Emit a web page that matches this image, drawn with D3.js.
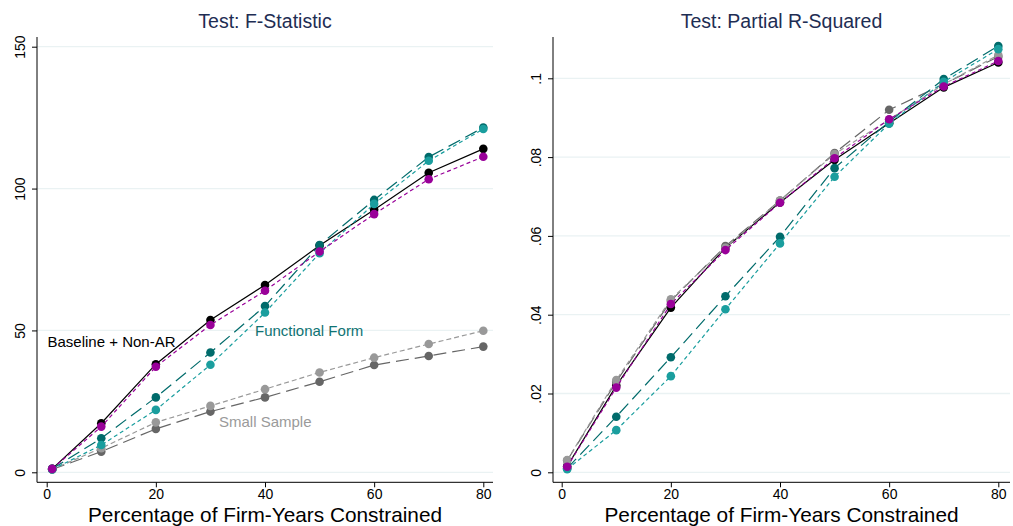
<!DOCTYPE html>
<html><head><meta charset="utf-8">
<script src="https://cdn.jsdelivr.net/npm/d3@7"></script>
<style>body{margin:0;background:#fff}svg{display:block;font-family:"Liberation Sans",Arial,sans-serif}</style>
</head><body><svg id="c" width="1013" height="526"></svg>
<script>
const xVals = [1,10,20,30,40,50,60,70,80];
const xTicks = [0,20,40,60,80];
const fTicks = [0,50,100,150];
const rTicks = [0,0.02,0.04,0.06,0.08,0.1];

// Left panel: F-Statistic
const fBaseline   = [1.2,17.3,38.1,53.7,66.0,79.9,92.5,105.6,114.0];
const fNonAR      = [1.2,16.1,37.2,51.9,64.0,77.8,91.0,103.3,111.2];
const fFuncForm1  = [1.2,12.0,26.4,42.2,58.6,80.1,96.0,111.1,121.5];
const fFuncForm2  = [1.0,9.6,22.0,37.9,56.3,77.2,94.6,109.8,121.0];
const fSmall1     = [1.0,7.3,15.3,21.4,26.4,31.9,37.8,41.0,44.3];
const fSmall2     = [1.0,8.5,17.6,23.4,29.3,35.2,40.4,45.2,49.9];

// Right panel: Partial R-Squared
const rBaseline   = [0.0015,0.0220,0.0418,0.0570,0.0685,0.0793,0.0886,0.0977,0.1040];
const rNonAR      = [0.0014,0.0215,0.0427,0.0564,0.0684,0.0797,0.0896,0.0979,0.1044];
const rFuncForm1  = [0.0010,0.0141,0.0292,0.0447,0.0598,0.0772,0.0890,0.0998,0.1082];
const rFuncForm2  = [0.0008,0.0107,0.0244,0.0414,0.0581,0.0750,0.0885,0.0991,0.1074];
const rSmall1     = [0.0030,0.0230,0.0435,0.0574,0.0690,0.0810,0.0920,0.0985,0.1055];
const rSmall2     = [0.0031,0.0234,0.0439,0.0570,0.0690,0.0808,0.0895,0.0985,0.1059];

const styles = {
  baseline: {color:"#000000", dash:null},
  smallA:   {color:"#666666", dash:"13,6"},
  smallB:   {color:"#999999", dash:"5,3"},
  funcA:    {color:"#006b6b", dash:"13,6"},
  funcB:    {color:"#1a9e9e", dash:"4,3"},
  nonar:    {color:"#990099", dash:"4,3"}
};

const svg = d3.select("#c");

function panel(cfg){
  const g = svg.append("g");
  const x = d3.scaleLinear().domain([0,80]).range(cfg.xr);
  const y = d3.scaleLinear().domain(cfg.yd).range(cfg.yr);
  g.selectAll(".grid").data(cfg.yTicks).enter().append("line")
    .attr("x1", cfg.axL).attr("x2", cfg.axR)
    .attr("y1", d=>y(d)).attr("y2", d=>y(d))
    .attr("stroke","#eaf2f3").attr("stroke-width",1.3);
  const ya = g.append("g").attr("transform",`translate(${cfg.axL},0)`)
    .call(d3.axisLeft(y).tickValues(cfg.yTicks).tickSize(5).tickFormat(cfg.fmt));
  ya.select(".domain").remove();
  ya.selectAll(".tick line").attr("stroke","#000");
  ya.selectAll(".tick text").attr("font-size",14).attr("fill","#000")
    .attr("transform","rotate(-90)").attr("text-anchor","middle")
    .attr("x",0).attr("dy",0).attr("y",-12.5).attr("dx",0);
  g.append("line").attr("x1",cfg.axL).attr("x2",cfg.axL).attr("y1",37).attr("y2",482.3)
    .attr("stroke","#000").attr("stroke-width",1);
  const xa = g.append("g").attr("transform",`translate(0,482.3)`)
    .call(d3.axisBottom(x).tickValues(xTicks).tickSize(5));
  xa.select(".domain").remove();
  xa.selectAll(".tick line").attr("stroke","#000");
  xa.selectAll(".tick text").attr("font-size",14).attr("fill","#000").attr("y",7).attr("dy","0.71em");
  g.append("line").attr("x1",cfg.axL).attr("x2",cfg.axR).attr("y1",482.3).attr("y2",482.3)
    .attr("stroke","#000").attr("stroke-width",1);
  g.append("text").attr("x",(cfg.axL+cfg.axR)/2).attr("y",28).attr("text-anchor","middle")
    .attr("font-size",19.5).attr("fill","#1e2d53").text(cfg.title);
  g.append("text").attr("x",(cfg.axL+cfg.axR)/2).attr("y",522).attr("text-anchor","middle")
    .attr("font-size",20.8).attr("fill","#000").text("Percentage of Firm-Years Constrained");
  const line = d3.line().x((d,i)=>x(xVals[i])).y(d=>y(d));
  cfg.series.forEach(s=>{
    const st = styles[s.key];
    g.append("path").datum(s.vals).attr("d",line).attr("fill","none")
      .attr("stroke",st.color).attr("stroke-width",1.2)
      .attr("stroke-dasharray",st.dash);
    g.selectAll(null).data(s.vals).enter().append("circle")
      .attr("cx",(d,i)=>x(xVals[i])).attr("cy",d=>y(d)).attr("r",4.3)
      .attr("fill",st.color);
  });
  return {g,x,y};
}

const L = panel({
  xr:[46.7,483.3], yd:[0,150], yr:[472.3,46.7], axL:37, axR:493,
  yTicks:fTicks, fmt:d3.format("d"), title:"Test: F-Statistic",
  series:[
    {key:"baseline", vals:fBaseline},
    {key:"smallA", vals:fSmall1},
    {key:"smallB", vals:fSmall2},
    {key:"funcA", vals:fFuncForm1},
    {key:"funcB", vals:fFuncForm2},
    {key:"nonar", vals:fNonAR}
  ]
});
const rfmt = d=> d===0 ? "0" : d3.format(".2~f")(d).replace(/^0/,"");
const R = panel({
  xr:[561.7,998.3], yd:[0,0.1], yr:[472.3,78.3], axL:553, axR:1010,
  yTicks:rTicks, fmt:rfmt, title:"Test: Partial R-Squared",
  series:[
    {key:"baseline", vals:rBaseline},
    {key:"smallA", vals:rSmall1},
    {key:"smallB", vals:rSmall2},
    {key:"funcA", vals:rFuncForm1},
    {key:"funcB", vals:rFuncForm2},
    {key:"nonar", vals:rNonAR}
  ]
});

L.g.append("text").attr("x",47.5).attr("y",347).attr("font-size",15).attr("fill","#000").text("Baseline + Non-AR");
L.g.append("text").attr("x",255).attr("y",336).attr("font-size",15).attr("fill","#0f7373").text("Functional Form");
L.g.append("text").attr("x",219).attr("y",427).attr("font-size",15).attr("fill","#9a9a9a").text("Small Sample");
</script></body></html>
